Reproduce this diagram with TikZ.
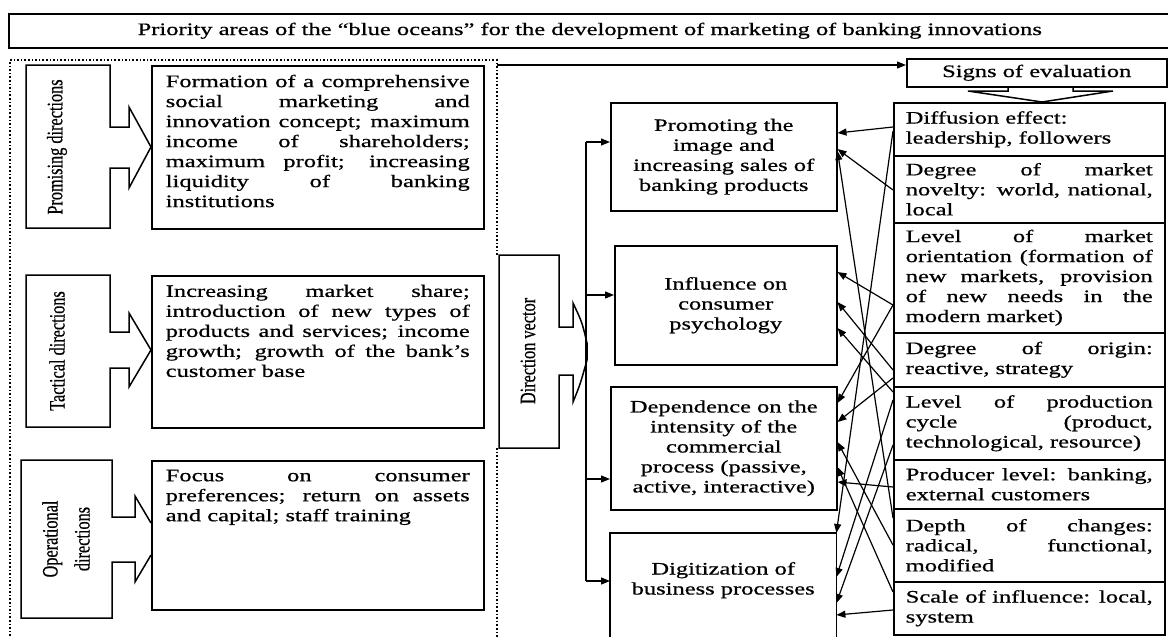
\documentclass[tikz,border=0pt]{standalone}
\usepackage{fontspec}
\setmainfont{Liberation Serif}[FakeStretch=1.4, FakeBold=0.7]
\newfontfamily\vertfont{Liberation Serif}[FakeStretch=0.74, FakeBold=0.5]
\usetikzlibrary{arrows.meta,calc}

\begin{document}
\begin{tikzpicture}[x=1pt,y=-1pt,
  box/.style={draw, line width=1.5pt, inner sep=0pt},
  txt/.style={font=\fontsize{17.5}{20}\selectfont},
  vlab/.style={font=\vertfont\fontsize{22}{32}\selectfont, rotate=90, inner sep=0pt},
  conn/.style={line width=1.2pt, -{Triangle[length=9pt,width=7pt]}},
  blockarrow/.style={draw, line width=1.5pt, line join=miter}]

\useasboundingbox (0,0) rectangle (1168,637);

% Title
\node[box, txt, anchor=north west, minimum width=1162pt, minimum height=34pt] (title) at (8,13)
  {Priority areas of the “blue oceans” for the development of marketing of banking innovations};

% Dotted frame round the left part
\draw[dotted, line width=1.6pt] (497,255) -- (497,60) -- (10,60) -- (10,645);
\draw[dotted, line width=1.6pt] (497,448) -- (497,645);

% Left column: text boxes
\node[box, txt, anchor=north west, inner xsep=14pt, inner ysep=9pt] (prom) at (151,65)
  {\parbox[c][145pt][t]{304pt}{Formation of a comprehensive\linebreak social marketing and\linebreak
   innovation concept; maximum\linebreak income of shareholders;\linebreak maximum profit; increasing\linebreak
   liquidity of banking\linebreak institutions}};
\node[box, txt, anchor=north west, inner xsep=14pt, inner ysep=9pt] (tact) at (151,275)
  {\parbox[c][134pt][t]{304pt}{Increasing market share;\linebreak introduction of new types of\linebreak
   products and services; income\linebreak growth; growth of the bank's\linebreak customer base}};
\node[box, txt, anchor=north west, inner xsep=14pt, inner ysep=9pt] (oper) at (151,460)
  {\parbox[c][131pt][t]{304pt}{Focus on consumer\linebreak preferences; return on assets\linebreak
   and capital; staff training}};

% Left column: labels with block arrows
\draw[blockarrow] (110,127) -- (110,65) -- (26,65) -- (26,228) -- (110,228) -- (110,168)
  -- (129,168) -- (129,188) -- (151,147) -- (129,107) -- (129,127) -- cycle;
\node[vlab] (lprom) at (57,147) {Promising directions};

\draw[blockarrow] (110,332) -- (110,275) -- (26,275) -- (26,427) -- (110,427) -- (110,368)
  -- (129,368) -- (129,387) -- (151,350) -- (129,313) -- (129,332) -- cycle;
\node[vlab] (ltact) at (57,351) {Tactical directions};

\draw[blockarrow] (151,523) -- (135,496) -- (135,517) -- (112,517) -- (112,460) -- (21,460)
  -- (21,618) -- (112,618) -- (112,562) -- (135,562) -- (135,582) -- (151,555);
\node[vlab, align=center] (loper) at (66,539) {Operational\\directions};

% Direction vector
\draw[blockarrow] (559,327) -- (559,255) -- (499,255) -- (499,448) -- (559,448) -- (559,375)
  -- (573,375) -- (573,402) .. controls (580,385) .. (587,360) -- (587,343) .. controls (582,322) .. (573,303) -- (573,327) -- cycle;
\node[vlab] (ldir) at (528,351) {Direction vector};

% Middle column
\node[box, txt, align=center, anchor=north west, minimum width=226pt, minimum height=108pt] (promo) at (610,102)
  {Promoting the\\image and\\increasing sales of\\banking products};
\node[box, txt, align=center, anchor=north west, minimum width=222pt, minimum height=119pt] (infl) at (614,245)
  {Influence on\\consumer\\psychology};
\node[box, txt, align=center, anchor=north west, minimum width=226pt, minimum height=123pt] (depend) at (610,386)
  {Dependence on the\\intensity of the\\commercial\\process (passive,\\active, interactive)};
\node[txt, align=center, anchor=north west, minimum width=226pt, minimum height=94pt, inner sep=0pt] (digit) at (610,533)
  {Digitization of\\business processes};
\draw[line width=1.5pt] ([yshift=-30pt]digit.south west) |- (digit.north east) -- ([yshift=-30pt]digit.south east);

% Spine from the direction vector
\draw[line width=1.2pt] (586,142) -- (586,581);
\foreach \b/\y in {promo/142, infl/295, depend/479, digit/581}
  \draw[conn] (586,\y) -- (\b.west |- 0,\y);

% Signs of evaluation
\node[box, txt, anchor=north west, minimum width=260pt, minimum height=28pt] (signs) at (906,58) {Signs of evaluation};
\draw[conn] (497,65) -- (signs.west |- 0,65);
\draw[blockarrow] (1008,86) -- (1008,91) -- (968,91) -- (1042,102) -- (1113,91) -- (1073,91) -- (1073,86);

% Right column
\node[box, txt, align=justify, anchor=north west, text width=247pt, inner xsep=12pt, minimum height=53pt] (diffu) at (893,102)
  {Diffusion effect:\newline leadership, followers};
\node[box, txt, align=justify, anchor=north west, text width=247pt, inner xsep=12pt, minimum height=67pt] (novel) at (893,155)
  {Degree of market\linebreak novelty: world, national,\linebreak local};
\node[box, txt, align=justify, anchor=north west, text width=247pt, inner xsep=12pt, minimum height=110pt] (orient) at (893,222)
  {Level of market\linebreak orientation (formation of\linebreak new markets, provision\linebreak of new needs in the\linebreak modern market)};
\node[box, txt, align=justify, anchor=north west, text width=247pt, inner xsep=12pt, minimum height=54pt] (orig) at (893,332)
  {Degree of origin:\linebreak reactive, strategy};
\node[box, txt, align=justify, anchor=north west, text width=247pt, inner xsep=12pt, minimum height=73pt] (prodcyc) at (893,386)
  {Level of production\linebreak cycle (product,\linebreak technological, resource)};
\node[box, txt, align=justify, anchor=north west, text width=247pt, inner xsep=12pt, minimum height=49pt] (produ) at (893,459)
  {Producer level: banking,\linebreak external customers};
\node[box, txt, align=justify, anchor=north west, text width=247pt, inner xsep=12pt, minimum height=73pt] (depth) at (893,508)
  {Depth of changes:\linebreak radical, functional,\linebreak modified};
\node[box, txt, align=justify, anchor=north west, text width=247pt, inner xsep=12pt, minimum height=53pt] (scal) at (893,581)
  {Scale of influence: local,\linebreak system};

% Links from the signs to the directions
\foreach \a/\ya/\b/\yb in {diffu/127/promo/133, novel/190/promo/149, depth/518/promo/151,
    orient/305/infl/272, orig/370/infl/302, prodcyc/392/infl/328,
    orient/305/depend/403, orig/378/depend/422, depth/545/depend/442,
    scal/592/depend/467, produ/487/depend/482,
    prodcyc/400/digit/577, prodcyc/445/digit/603, scal/610/digit/615}
  \draw[conn] (\a.west |- 0,\ya) -- (\b.east |- 0,\yb);
\draw[conn] (diffu.west |- 0,131) -- (digit.north east);

\end{tikzpicture}
\end{document}
